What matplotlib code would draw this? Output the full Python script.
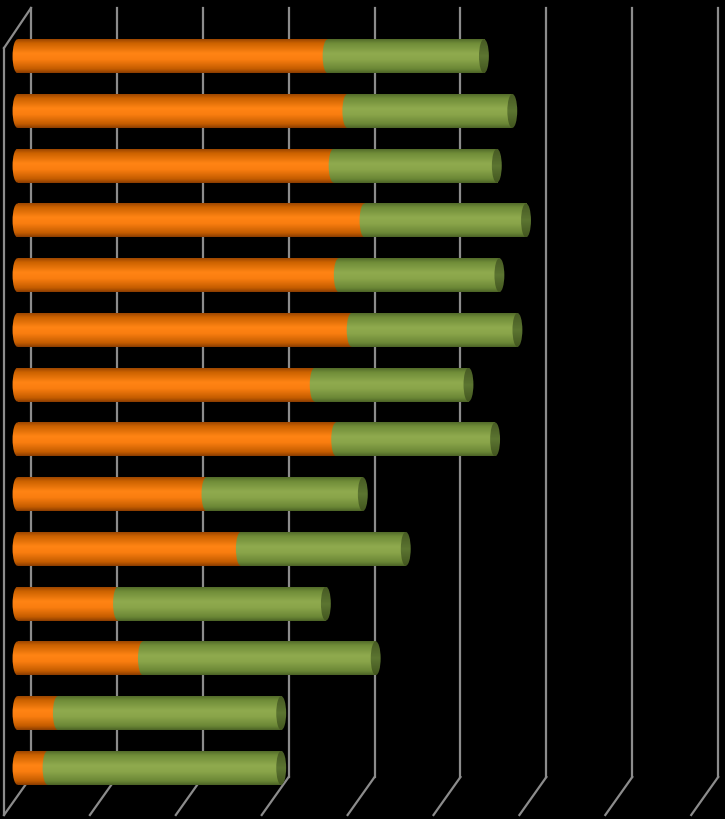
import numpy as np
import matplotlib
matplotlib.use("Agg")
import matplotlib.pyplot as plt
from matplotlib.patches import Ellipse
from matplotlib.colors import LinearSegmentedColormap

# ---- data ----
categories = [str(i) for i in range(1, 15)]
series_a = [36.1, 38.4, 36.8, 40.4, 37.4, 38.9, 34.6, 37.1, 22.0, 26.0, 11.7, 14.6, 4.7, 3.5]
series_b = [18.2, 19.2, 19.0, 18.8, 18.7, 19.3, 17.9, 18.5, 18.2, 19.2, 24.2, 27.1, 26.0, 27.2]
x_ticks = [0, 10, 20, 30, 40, 50, 60, 70, 80]

# ---- style / layout ----
W, H = 725, 819
px_per_unit = 8.59
row_px = 54.74
depth = 1.57            # half depth offset (data units, x)
bar_h = 0.621
cap_w = 1.15
xlim = (-17.5 / px_per_unit, (W - 17.5) / px_per_unit)
ylim = ((H - 56.2) / row_px, -56.2 / row_px)
wall_top = (8 - 56.2) / row_px
floor_back = (777 - 56.2) / row_px
floor_front = (815 - 56.2) / row_px
grid_col = "#8c8c8c"

cm_orange = LinearSegmentedColormap.from_list("o", [
    (0.0, "#9C4600"), (0.12, "#CC6200"), (0.42, "#FF8414"),
    (0.6, "#FA7E10"), (0.88, "#C45C00"), (1.0, "#8A3C00")])
cm_green = LinearSegmentedColormap.from_list("g", [
    (0.0, "#526A2A"), (0.12, "#6F8C38"), (0.42, "#8FAA4E"),
    (0.6, "#8AA54A"), (0.88, "#6B8736"), (1.0, "#4B6226")])
cm_cap = LinearSegmentedColormap.from_list("c", [
    (0.0, "#465923"), (0.5, "#5C7531"), (1.0, "#42551F")])

fig = plt.figure(figsize=(W / 100, H / 100), dpi=100, facecolor="black")
ax = fig.add_axes([0, 0, 1, 1])
ax.set_facecolor("black")
ax.axis("off")

# ---- perspective grid ----
lw = 1.6
for t in x_ticks:
    ax.plot([t + depth, t + depth], [wall_top, floor_back], color=grid_col, lw=lw, zorder=1)
    ax.plot([t + depth, t - depth], [floor_back, floor_front], color=grid_col, lw=lw, zorder=1)
left_front_top = wall_top + (48 - 8) / row_px
ax.plot([x_ticks[0] + depth, x_ticks[0] - depth], [wall_top, left_front_top], color=grid_col, lw=lw, zorder=1)
ax.plot([x_ticks[0] - depth, x_ticks[0] - depth], [left_front_top, floor_front], color=grid_col, lw=lw, zorder=1)

grad = np.linspace(0, 1, 256).reshape(-1, 1)


def shade(patch, cmap, x0, x1, yc, z):
    patch.set_facecolor("none")
    patch.set_edgecolor("none")
    patch.set_zorder(z)
    if patch.axes is None:
        ax.add_patch(patch)
    im = ax.imshow(grad, cmap=cmap, extent=(x0, x1, yc + bar_h / 2, yc - bar_h / 2),
                   aspect="auto", origin="upper", zorder=z, interpolation="bilinear")
    im.set_clip_path(patch)


y = np.arange(len(categories))
totals = [a + b for a, b in zip(series_a, series_b)]
bars_a = ax.barh(y, series_a, height=bar_h, left=0, color="none")
bars_b = ax.barh(y, series_b, height=bar_h, left=series_a, color="none")

for i, yc in enumerate(y):
    a = series_a[i]
    t = totals[i]
    # orange segment
    shade(bars_a[i], cm_orange, -cap_w, a, yc, 2)
    shade(Ellipse((0, yc), cap_w, bar_h), cm_orange, -cap_w, a, yc, 2)
    # green segment
    shade(bars_b[i], cm_green, a - cap_w, t, yc, 3)
    shade(Ellipse((a, yc), cap_w, bar_h), cm_green, a - cap_w, t, yc, 3)
    # end cap
    shade(Ellipse((t, yc), cap_w, bar_h), cm_cap, t - cap_w, t + cap_w, yc, 4)

ax.set_xlim(*xlim)
ax.set_ylim(*ylim)
ax.set_aspect("auto")

fig.savefig("out.png", dpi=100, facecolor="black")
